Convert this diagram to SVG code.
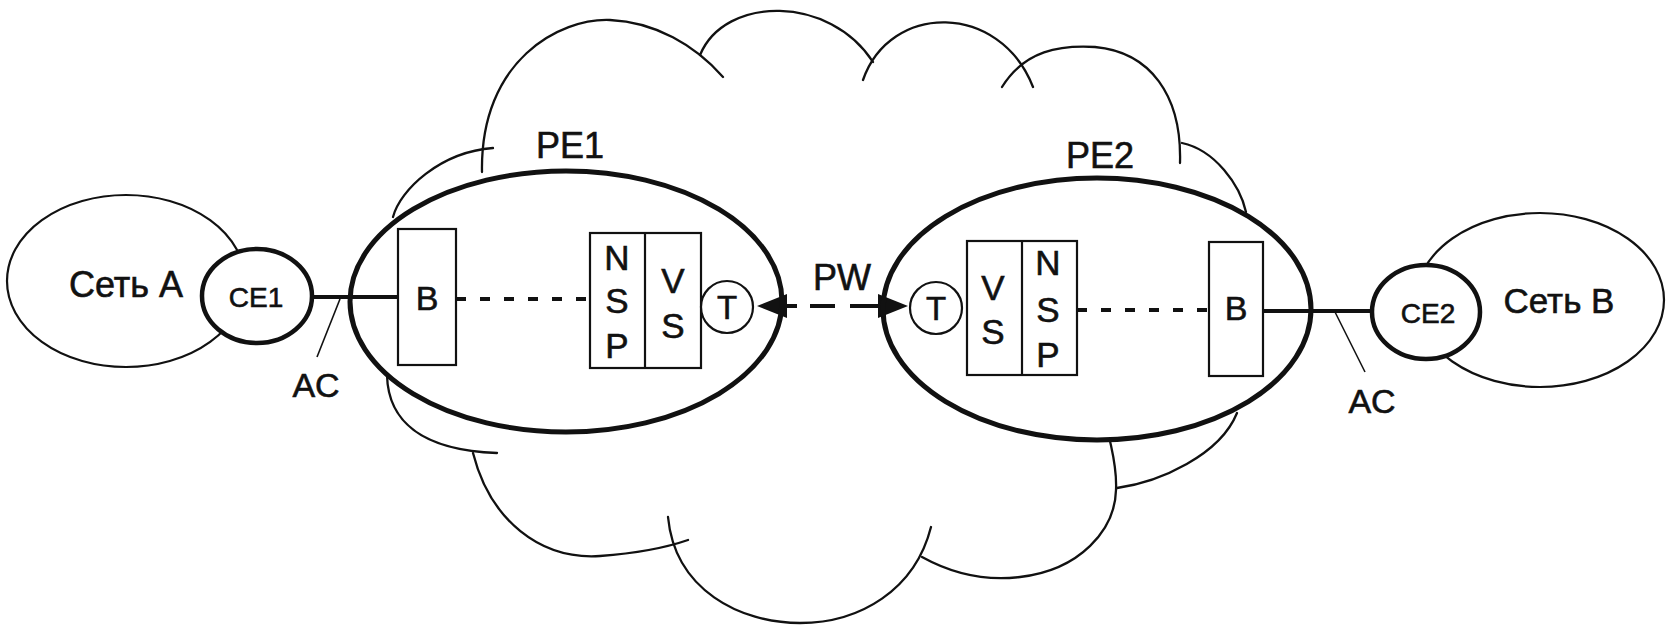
<svg xmlns="http://www.w3.org/2000/svg" width="1666" height="625" viewBox="0 0 1666 625">
<style>
text{font-family:"Liberation Sans",Arial,sans-serif;fill:#111;stroke:#111;stroke-width:0.6;text-anchor:middle}
.cloud{fill:none;stroke:#111;stroke-width:2.3;stroke-linecap:round}
.net{fill:#fff;stroke:#111;stroke-width:2.2}
.ce{fill:#fff;stroke:#111;stroke-width:4.5}
.pe{fill:none;stroke:#111;stroke-width:5}
.box{fill:#fff;stroke:#111;stroke-width:2.2}
.t{fill:#fff;stroke:#111;stroke-width:2.2}
.solid{stroke:#111;stroke-width:4;fill:none}
.dash{stroke:#111;stroke-width:4;fill:none;stroke-dasharray:10 14}
.lead{stroke:#111;stroke-width:1.6;fill:none}
</style>
<defs>
<marker id="ah" viewBox="0 0 30 24" refX="0" refY="12" markerWidth="30" markerHeight="24" markerUnits="userSpaceOnUse" orient="auto-start-reverse">
<path d="M0,0 L30,12 L0,24 z" fill="#111"/>
</marker>
</defs>
<rect width="1666" height="625" fill="#fff"/>
<g id="cloud">
<path class="cloud" d="M393,217 C400,190 440,152 493,148"/>
<path class="cloud" d="M482,172 C480,60 560,18 610,20 C655,22 695,45 723,77"/>
<path class="cloud" d="M700,55 C725,-5 830,-5 873,62"/>
<path class="cloud" d="M863,80 C890,2 1000,2 1033,87"/>
<path class="cloud" d="M1002,87 C1025,50 1060,45 1095,47 C1150,52 1182,95 1180,163"/>
<path class="cloud" d="M1182,143 C1215,150 1240,185 1246,212"/>
<path class="cloud" d="M387,375 C388,420 420,450 497,453"/>
<path class="cloud" d="M473,453 C490,520 540,560 600,556 C640,553 665,548 688,540"/>
<path class="cloud" d="M668,517 C675,590 740,623 800,623 C860,623 915,590 931,527"/>
<path class="cloud" d="M922,557 C960,578 995,580 1020,577 C1080,570 1115,530 1116,490 C1117,470 1113,455 1110,441"/>
<path class="cloud" d="M1117,488 C1160,482 1220,455 1237,413"/>
</g>
<g id="netA">
<ellipse class="net" cx="126" cy="281" rx="119" ry="86"/>
<text x="126" y="297" font-size="36">Сеть A</text>
</g>
<g id="netB">
<ellipse class="net" cx="1540" cy="300" rx="124" ry="87"/>
<text x="1559" y="313" font-size="35">Сеть B</text>
</g>
<g id="connectors">
<line class="solid" x1="311" y1="297" x2="398" y2="297"/>
<line class="solid" x1="1263" y1="311" x2="1373" y2="311"/>
<line class="dash" x1="456" y1="299" x2="590" y2="299"/>
<line class="dash" x1="1077" y1="310" x2="1209" y2="310"/>
<line class="lead" x1="340" y1="299" x2="317" y2="357"/>
<line class="lead" x1="1335" y1="312" x2="1365" y2="372"/>
<line x1="787" y1="306" x2="878" y2="306" stroke="#111" stroke-width="4" stroke-dasharray="10 13 25 15 28" marker-start="url(#ah)" marker-end="url(#ah)"/>
</g>
<g id="ce1">
<ellipse class="ce" cx="257" cy="296" rx="55" ry="47"/>
<text x="256" y="307" font-size="28">CE1</text>
</g>
<g id="ce2">
<ellipse class="ce" cx="1426" cy="312" rx="54" ry="47"/>
<text x="1428" y="323" font-size="28">CE2</text>
</g>
<g id="pe1">
<ellipse class="pe" cx="566" cy="301.5" rx="216" ry="130.5"/>
<text x="570" y="158" font-size="36">PE1</text>
</g>
<g id="pe2">
<ellipse class="pe" cx="1097" cy="309" rx="214" ry="131"/>
<text x="1100" y="168" font-size="36">PE2</text>
</g>
<g id="b1">
<rect class="box" x="398" y="229" width="58" height="136"/>
<text x="427" y="310" font-size="34">B</text>
</g>
<g id="nspvs1">
<rect class="box" x="590" y="233" width="111" height="135"/>
<line class="box" x1="645" y1="233" x2="645" y2="368"/>
<text x="617" y="270" font-size="35">N</text>
<text x="617" y="313" font-size="35">S</text>
<text x="617" y="358" font-size="35">P</text>
<text x="673" y="293" font-size="35">V</text>
<text x="673" y="338" font-size="35">S</text>
</g>
<g id="t1">
<circle class="t" cx="727" cy="307" r="26"/>
<text x="727" y="319" font-size="33">T</text>
</g>
<g id="t2">
<circle class="t" cx="936" cy="308" r="26"/>
<text x="936" y="320" font-size="33">T</text>
</g>
<g id="nspvs2">
<rect class="box" x="967" y="241" width="110" height="134"/>
<line class="box" x1="1022" y1="241" x2="1022" y2="375"/>
<text x="993" y="300" font-size="35">V</text>
<text x="993" y="344" font-size="35">S</text>
<text x="1048" y="275" font-size="35">N</text>
<text x="1048" y="322" font-size="35">S</text>
<text x="1048" y="367" font-size="35">P</text>
</g>
<g id="b2">
<rect class="box" x="1209" y="242" width="54" height="134"/>
<text x="1236" y="320" font-size="34">B</text>
</g>
<g id="labels">
<text x="842" y="290" font-size="36">PW</text>
<text x="316" y="397" font-size="34">AC</text>
<text x="1372" y="413" font-size="34">AC</text>
</g>
</svg>
